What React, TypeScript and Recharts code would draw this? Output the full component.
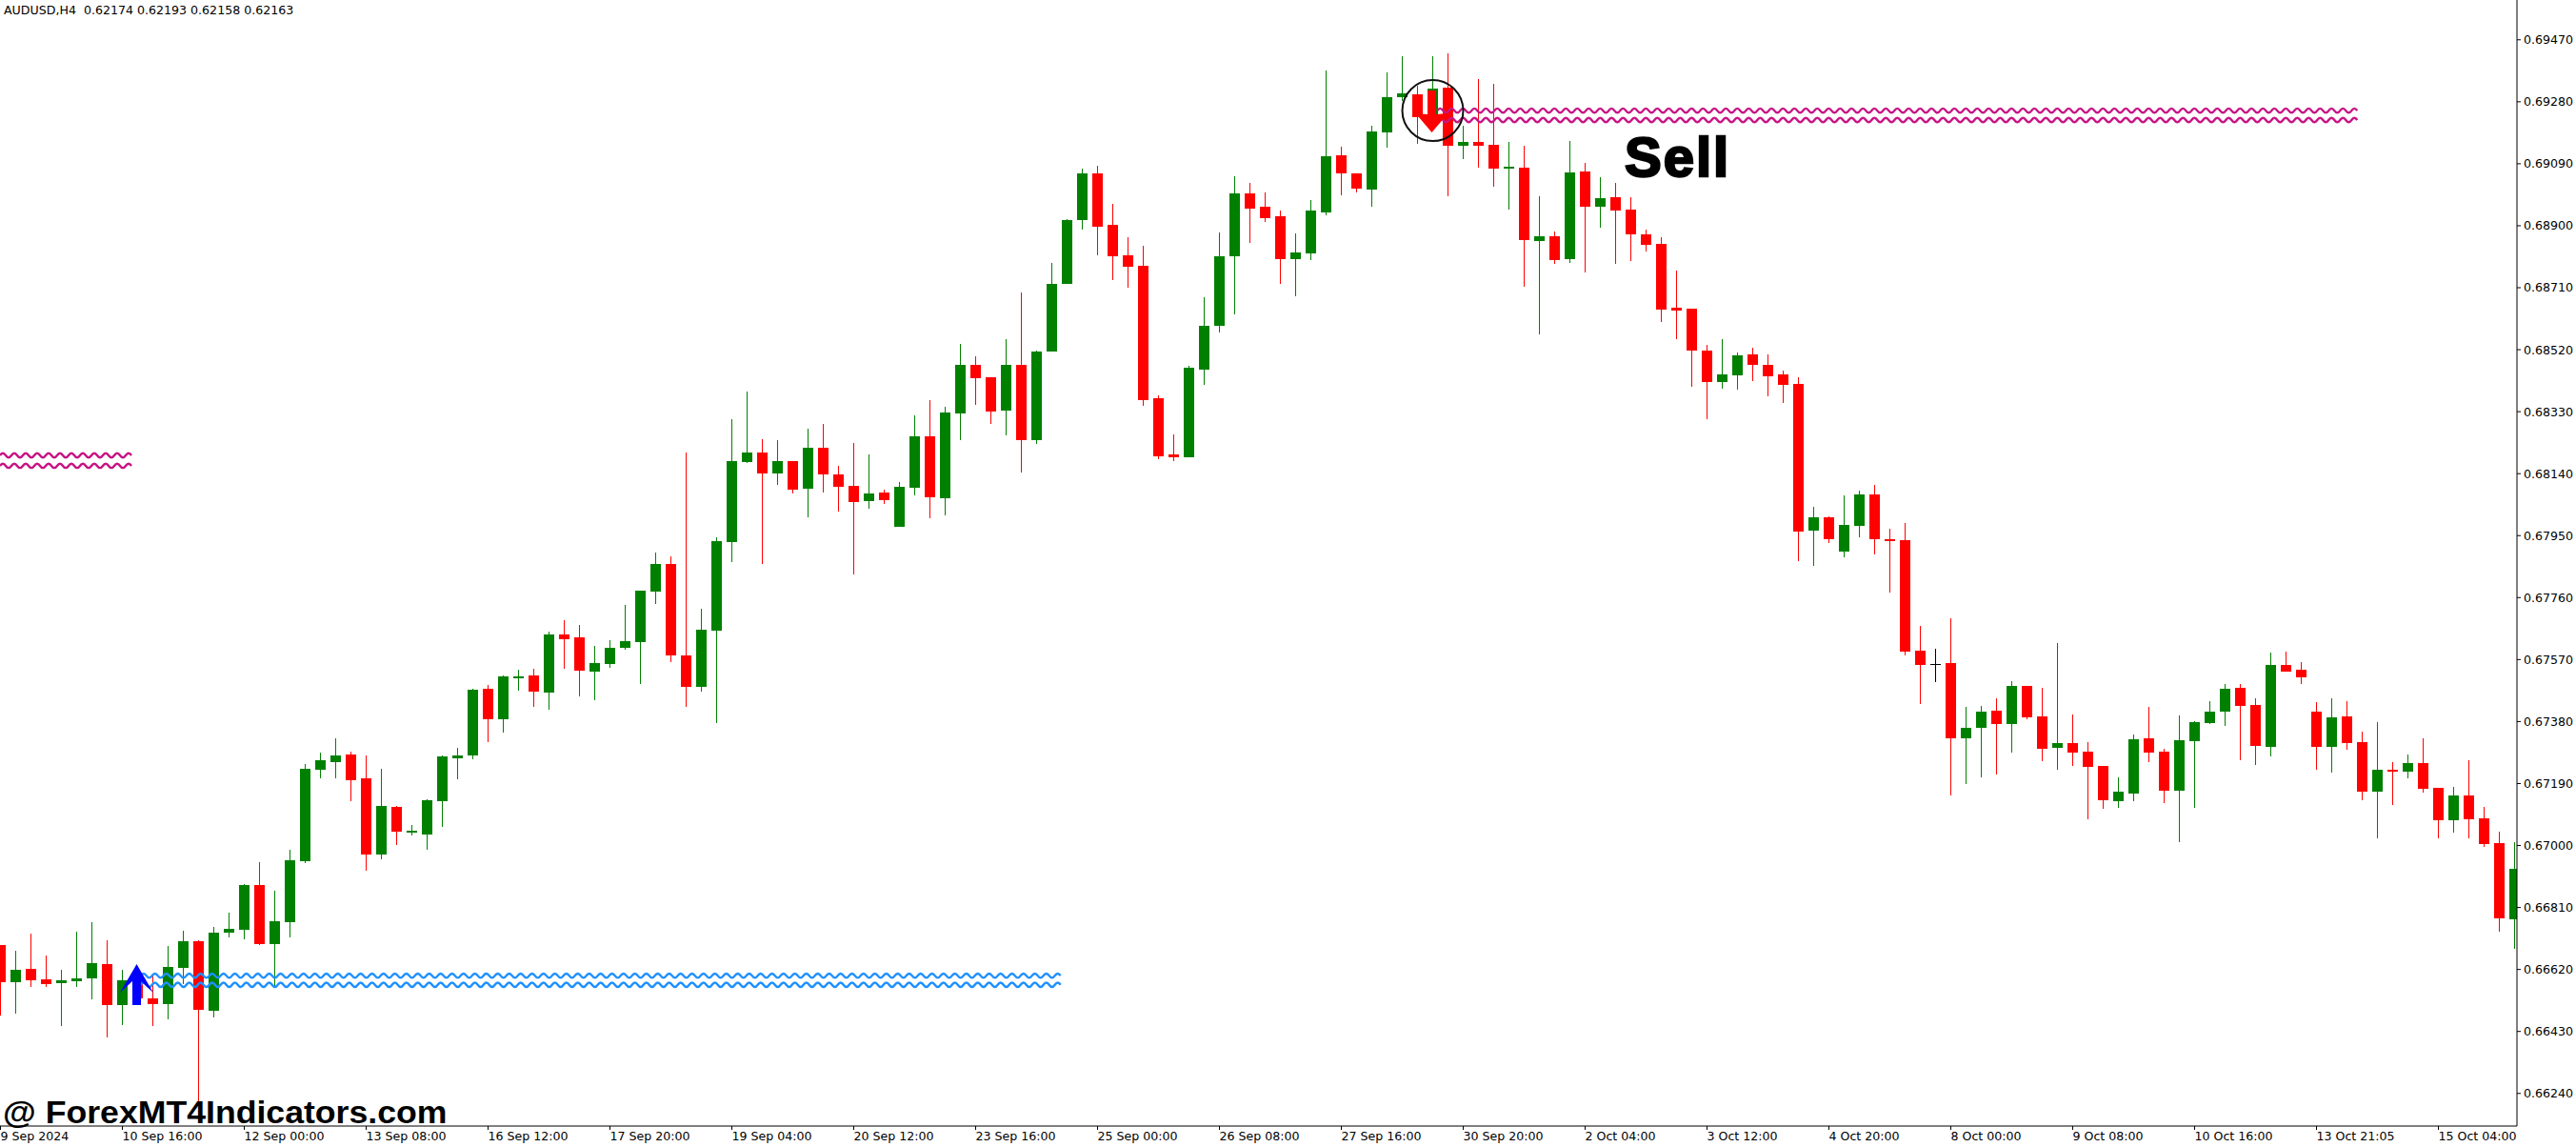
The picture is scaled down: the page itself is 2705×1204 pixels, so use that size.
import React from "react";
import { ComposedChart, Bar, Scatter, XAxis, YAxis, ReferenceLine, ReferenceDot } from "recharts";

// Prices are in points (1 point = 0.00001).
const opens = [
  66695,66581,66622,66590,66578,66584,66593,66636,66511,66587,
  66531,66514,66625,66707,66493,66733,66742,66879,66698,66765,
  66952,67232,67256,67279,67206,66972,67118,67039,67034,67136,
  67267,67276,67481,67387,67516,67522,67469,67647,67638,67533,
  67556,67606,67624,67778,67863,67583,67487,67659,67930,68176,
  68205,68141,68179,68094,68220,68138,68102,68056,68082,67977,
  68097,68254,68064,68324,68473,68435,68333,68473,68243,68514,
  68722,68917,69060,68903,68809,68777,68371,68199,68190,68459,
  68593,68806,68999,68958,68929,68798,68815,68941,69116,69060,
  69011,69186,69294,69303,69242,69323,69145,69157,69148,69075,
  69078,68853,68868,68798,69066,68958,68987,68950,68874,68844,
  68649,68646,68517,68421,68441,68506,68473,68444,68415,67965,
  68006,67901,67980,68076,67939,67936,67597,67556,67559,67329,
  67361,67413,67372,67489,67396,67299,67314,67288,67244,67136,
  67159,67329,67288,67168,67320,67375,67411,67483,67431,67302,
  67554,67539,67411,67302,67396,67317,67165,67232,67226,67253,
  67177,67077,67153,67083,67007,66774,
];
const highs = [
  66695,66677,66730,66663,66619,66736,66765,66709,66619,66619,
  66601,66692,66739,66709,66750,66794,66882,66949,66861,66987,
  67250,67285,67329,67288,67276,67235,67121,67063,67142,67276,
  67299,67481,67493,67522,67539,67542,67656,67691,67676,67612,
  67629,67738,67781,67898,67886,68205,67726,67945,68307,68392,
  68246,68243,68179,68278,68292,68164,68234,68199,68091,68114,
  68319,68365,68345,68538,68500,68435,68552,68695,68517,68786,
  68920,69075,69084,68967,68865,68838,68380,68260,68471,68681,
  68879,69052,69031,69002,68947,68876,68979,69376,69142,69060,
  69206,69370,69420,69329,69420,69428,69206,69350,69335,69157,
  69145,68990,68882,69160,69093,69049,69031,68987,68888,68865,
  68763,68646,68535,68552,68511,68526,68506,68456,68435,68038,
  68009,68073,68088,68105,67971,67989,67673,67603,67697,67425,
  67428,67451,67504,67489,67483,67620,67402,67317,67244,67209,
  67340,67425,67296,67399,67381,67443,67495,67495,67451,67592,
  67594,67562,67440,67451,67443,67349,67378,67256,67279,67329,
  67177,67180,67262,67118,67042,67010,
];
const lows = [
  66479,66485,66566,66566,66447,66566,66528,66412,66450,66511,
  66447,66467,66575,66210,66473,66718,66712,66695,66569,66718,
  66946,67206,67206,67136,66923,66958,67001,67031,66987,67057,
  67203,67264,67317,67346,67475,67425,67416,67542,67457,67446,
  67545,67600,67495,67740,67562,67425,67472,67375,67869,68173,
  67863,68105,68079,68006,68082,68024,67831,68032,68047,67977,
  68073,68003,68012,68242,68351,68292,68257,68143,68231,68514,
  68722,68888,68809,68733,68710,68348,68184,68178,68190,68412,
  68573,68628,68847,68911,68722,68684,68795,68932,68993,69002,
  68958,69139,69282,69151,69227,68990,69104,69078,69020,68950,
  68713,68567,68783,68786,68757,68894,68783,68792,68821,68605,
  68552,68406,68307,68400,68397,68424,68377,68357,67872,67857,
  67927,67884,67945,67892,67775,67583,67434,67501,67153,67189,
  67209,67218,67285,67387,67258,67232,67244,67080,67112,67116,
  67136,67256,67130,67010,67116,67372,67367,67262,67247,67273,
  67533,67495,67232,67224,67294,67139,67022,67124,67206,67162,
  67022,67039,67022,66996,66736,66683,
];
const closes = [
  66581,66619,66587,66575,66587,66593,66639,66511,66587,66531,
  66514,66628,66707,66496,66733,66745,66879,66698,66768,66955,
  67235,67261,67276,67200,66972,67121,67042,67045,67139,67273,
  67276,67478,67387,67519,67519,67472,67647,67633,67536,67559,
  67606,67627,67781,67863,67583,67487,67662,67933,68179,68205,
  68141,68179,68091,68220,68138,68100,68053,68079,68059,68100,
  68254,68067,68327,68473,68432,68330,68473,68243,68514,68722,
  68917,69060,68897,68806,68774,68365,68193,68190,68465,68593,
  68806,68999,68952,68923,68798,68818,68947,69113,69060,69014,
  69189,69294,69306,69233,69320,69145,69157,69145,69075,69081,
  68856,68868,68795,69063,68958,68985,68947,68874,68841,68643,
  68640,68517,68421,68444,68503,68473,68438,68412,67962,68006,
  67939,67983,68076,67939,67933,67594,67553,67556,67329,67361,
  67411,67372,67489,67393,67296,67314,67285,67241,67139,67165,
  67326,67285,67168,67323,67378,67411,67481,67428,67305,67554,
  67533,67516,67302,67393,67314,67165,67232,67226,67253,67174,
  67077,67153,67080,67004,66777,66928,
];

const xTickLabels = [
  "9 Sep 2024","10 Sep 16:00","12 Sep 00:00","13 Sep 08:00","16 Sep 12:00","17 Sep 20:00","19 Sep 04:00",
  "20 Sep 12:00","23 Sep 16:00","25 Sep 00:00","26 Sep 08:00","27 Sep 16:00","30 Sep 20:00","2 Oct 04:00",
  "3 Oct 12:00","4 Oct 20:00","8 Oct 00:00","9 Oct 08:00","10 Oct 16:00","13 Oct 21:05","15 Oct 04:00",
];
const BARS_PER_TICK = 8;
const xTicks = xTickLabels.map((_, i) => i * BARS_PER_TICK);
const yTicks = [
  66240,66430,66620,66810,67000,67190,67380,67570,67760,67950,68140,68330,68520,68710,68900,69090,69280,69470,
];

// Indicator levels: [start bar, end bar, price]
const blueLevels = [
  [9.2, 69.7, 66601],
  [9.2, 69.7, 66573],
];
const pinkLevels = [
  [94.3, 155.0, 69253],
  [94.3, 155.0, 69224],
  [-0.03, 8.85, 68196],
  [-0.03, 8.85, 68164],
];
const buySignals = [{ k: 9, price: 66572 }];
const sellSignals = [{ k: 94, price: 69250 }];
const circleMark = { bar: 94, price: 69253 };

const data = opens.map((o, i) => ({
  k: i,
  open: o,
  high: highs[i],
  low: lows[i],
  close: closes[i],
  range: [lows[i], highs[i]],
}));

const UP = "#008000";
const DOWN = "#FF0000";
const FONT = "'DejaVu Sans', sans-serif";

function Candle(props: any) {
  const { x, y, width, height, payload } = props;
  const { open, close, high, low } = payload;
  const top = Math.min(y, y + height);
  const h = Math.abs(height);
  const per = h / (high - low);
  const bodyTop = top + (high - Math.max(open, close)) * per;
  const bodyBot = top + (high - Math.min(open, close)) * per;
  const color = open === close ? "#000000" : close > open ? UP : DOWN;
  const rTop = Math.round(bodyTop);
  const doji = open === close;
  const bh = Math.max(Math.round(bodyBot) - rTop, doji ? 1 : 2);
  return (
    <g shapeRendering="crispEdges">
      <rect x={x + 5} y={Math.round(top)} width={1} height={Math.round(h)} fill={color} />
      <rect x={x} y={rTop} width={width} height={bh} fill={color} />
    </g>
  );
}

function wavy(color: string) {
  return (p: any) => {
    const { x1, x2, y1 } = p;
    const period = 12;
    const amp = 4.4;
    let d = `M${x1} ${y1} Q${x1 + period / 4} ${y1 - amp} ${x1 + period / 2} ${y1}`;
    for (let x = x1 + period; x <= x2; x += period / 2) d += ` T${x} ${y1}`;
    return <path d={d} fill="none" stroke={color} strokeWidth={2.4} />;
  };
}

function UpArrow({ cx, cy }: any) {
  const pts = [[-1,-22],[16.5,8],[3.5,-4],[3.5,21],[-5.5,21],[-5.5,-4],[-18.5,8]];
  return <polygon points={pts.map(([a, b]) => `${cx + a},${cy + b}`).join(" ")} fill="#0000FF" />;
}
function DownArrow({ cx, cy }: any) {
  const pts = [[-1,22],[16,2],[3.5,3],[3.5,-22],[-5.5,-22],[-5.5,3],[-18,2]];
  return <polygon points={pts.map(([a, b]) => `${cx + a},${cy + b}`).join(" ")} fill="#FF0000" />;
}

export default function App() {
  return (
    <div style={{ position: "absolute", left: 0, top: 0, width: 2705, height: 1204, background: "#fff", overflow: "hidden" }}>
      <ComposedChart
        width={2705}
        height={1204}
        data={data}
        margin={{ top: 0, right: 0, bottom: 0, left: 0 }}
      >
        <XAxis
          dataKey="k"
          type="number"
          domain={[-0.03125, 165.15625]}
          allowDataOverflow
          ticks={xTicks}
          interval={0}
          height={22}
          stroke="#000"
          tickLine={{ stroke: "#000" }}
          tickSize={4}
          tickMargin={2}
          tick={{ fontSize: 12.6, fontFamily: FONT, fill: "#000", textAnchor: "start" }}
          tickFormatter={(v: number) => xTickLabels[v / BARS_PER_TICK]}
        />
        <YAxis
          orientation="right"
          type="number"
          domain={[66140, 69592]}
          allowDataOverflow
          ticks={yTicks}
          interval={0}
          width={62}
          stroke="#000"
          tickLine={{ stroke: "#000" }}
          tickSize={4}
          tickMargin={3}
          tick={{ fontSize: 12.6, fontFamily: FONT, fill: "#000" }}
          tickFormatter={(v: number) => (v / 100000).toFixed(5)}
        />
        <Bar dataKey="range" barSize={11} isAnimationActive={false} shape={Candle} />
        <Scatter data={buySignals} dataKey="price" isAnimationActive={false} shape={UpArrow} />
        <Scatter data={sellSignals} dataKey="price" isAnimationActive={false} shape={DownArrow} />
        {blueLevels.map(([a, b, p], i) => (
          <ReferenceLine key={`b${i}`} ifOverflow="visible" segment={[{ x: a, y: p }, { x: b, y: p }]} shape={wavy("#1E90FF")} />
        ))}
        {pinkLevels.map(([a, b, p], i) => (
          <ReferenceLine key={`p${i}`} ifOverflow="visible" segment={[{ x: a, y: p }, { x: b, y: p }]} shape={wavy("#C71585")} />
        ))}
        <ReferenceDot x={circleMark.bar} y={circleMark.price} r={32} ifOverflow="visible" fill="none" stroke="#111" strokeWidth={2} />
      </ComposedChart>
      <div style={{ position: "absolute", left: 4, top: 3, fontFamily: FONT, fontSize: 12.6, lineHeight: "15px", whiteSpace: "pre", color: "#000" }}>
        {"AUDUSD,H4  0.62174 0.62193 0.62158 0.62163"}
      </div>
      <div style={{ position: "absolute", left: 3, top: 1151, fontFamily: "'Liberation Sans', Arial, sans-serif", fontWeight: 700, fontSize: 33, lineHeight: 1, whiteSpace: "pre", color: "#000", transform: "scaleX(1.08)", transformOrigin: "left top" }}>
        {"@ ForexMT4Indicators.com"}
      </div>
      <div style={{ position: "absolute", left: 1706, top: 136, fontFamily: "'Liberation Sans', Arial, sans-serif", fontWeight: 700, fontSize: 58, lineHeight: 1, whiteSpace: "pre", color: "#000", WebkitTextStroke: "2.4px #000", letterSpacing: 2 }}>
        {"Sell"}
      </div>
    </div>
  );
}
